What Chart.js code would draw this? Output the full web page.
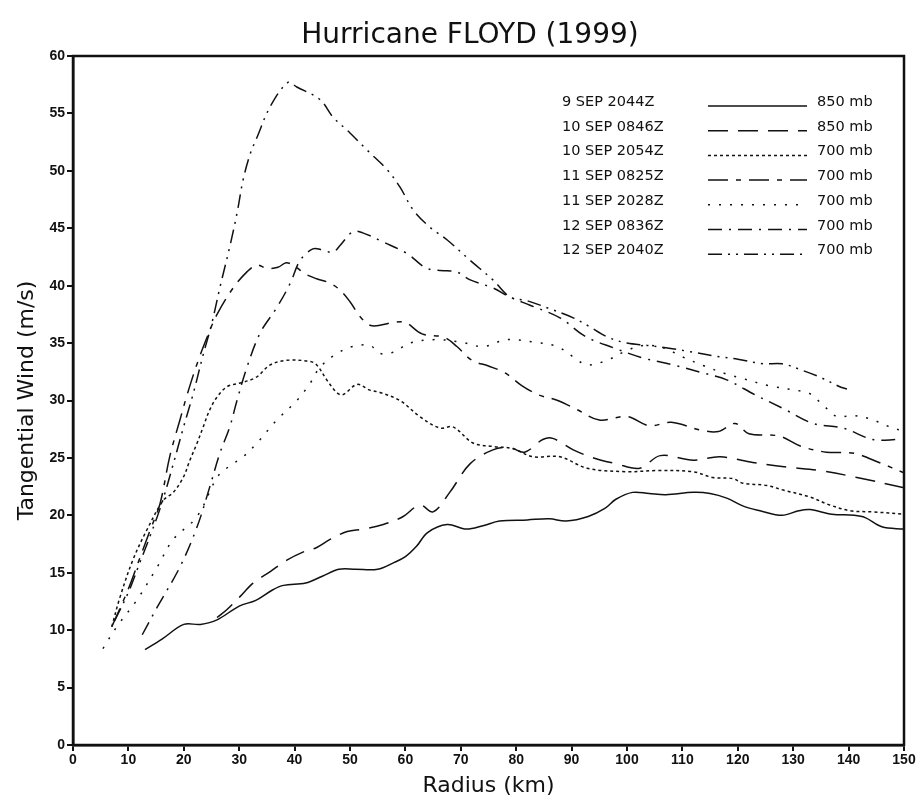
<!DOCTYPE html>
<html>
<head>
<meta charset="utf-8">
<script src="https://cdn.jsdelivr.net/npm/chart.js@4.4.1/dist/chart.umd.min.js"></script>
<style>
  html, body { margin: 0; padding: 0; background: #fff; }
  #wrap { width: 921px; height: 811px; }
</style>
</head>
<body>
<div id="wrap"><canvas id="myChart" width="921" height="811"></canvas></div>
<script>
// ticks
const xTicks = [0, 10, 20, 30, 40, 50, 60, 70, 80, 90, 100, 110, 120, 130, 140, 150];
const yTicks = [0, 5, 10, 15, 20, 25, 30, 35, 40, 45, 50, 55, 60];

// legend text
const chartTitle = 'Hurricane FLOYD (1999)';
const legendTimes = ['9 SEP 2044Z', '10 SEP 0846Z', '10 SEP 2054Z', '11 SEP 0825Z', '11 SEP 2028Z', '12 SEP 0836Z', '12 SEP 2040Z'];
const legendLevels = ['850 mb', '850 mb', '700 mb', '700 mb', '700 mb', '700 mb', '700 mb'];

// 9 SEP 2044Z 850 mb
const r1 = [13, 16, 20, 23, 26, 30, 33, 36, 38, 42, 45, 48, 51, 55, 58, 60, 62, 64, 67.5, 71, 74, 77, 82, 86, 89, 93, 96, 98, 101, 104, 107, 112, 115, 118, 121, 124, 128, 131, 133, 137, 141, 143, 146, 150];
const v1 = [8.3, 9.2, 10.5, 10.5, 10.9, 12.1, 12.6, 13.5, 13.9, 14.1, 14.7, 15.3, 15.3, 15.3, 15.9, 16.4, 17.3, 18.5, 19.2, 18.8, 19.1, 19.5, 19.6, 19.7, 19.5, 19.9, 20.6, 21.4, 22.0, 21.9, 21.8, 22.0, 21.9, 21.5, 20.8, 20.4, 20.0, 20.4, 20.5, 20.1, 20.0, 19.8, 19.0, 18.8];

// 10 SEP 0846Z 850 mb
const r2 = [26, 27.8, 30.1, 32.5, 35.6, 38.6, 41.5, 44, 46.4, 49.5, 52.3, 56, 59.6, 62.6, 65, 68, 71.7, 75.8, 78.9, 81.5, 84.8, 86.6, 90.3, 94, 98, 102.3, 106, 112, 116.8, 122.7, 128.8, 134.8, 141.5, 150];
const v2 = [11.1, 11.8, 12.9, 14.1, 15.1, 16.1, 16.8, 17.2, 17.9, 18.6, 18.8, 19.2, 19.9, 20.9, 20.3, 22.0, 24.5, 25.7, 25.9, 25.5, 26.6, 26.7, 25.7, 25.0, 24.5, 24.1, 25.2, 24.8, 25.1, 24.6, 24.2, 23.9, 23.3, 22.4];

// 10 SEP 2054Z 700 mb
const r3 = [7, 8.5, 10.8, 13.3, 16.3, 18.1, 19.9, 21.1, 22.4, 23.5, 24.7, 26, 27.8, 30, 33, 35.6, 38.6, 42.8, 44, 45.8, 47.6, 48.7, 51.3, 53.6, 55.4, 59, 62.6, 66.2, 68.6, 72.2, 75.8, 79.4, 83, 87.9, 92.8, 100, 105.4, 111.9, 115.5, 119.1, 120.9, 125.2, 128.2, 133, 136.6, 140.3, 144.4, 150];
const v3 = [10.3, 12.9, 16.1, 18.7, 21.3, 22.0, 23.3, 24.8, 26.3, 27.7, 29.2, 30.3, 31.2, 31.5, 32.0, 33.1, 33.5, 33.4, 33.1, 31.8, 30.7, 30.5, 31.4, 30.9, 30.7, 30.0, 28.6, 27.6, 27.7, 26.3, 26.0, 25.8, 25.1, 25.1, 24.1, 23.8, 23.9, 23.8, 23.3, 23.2, 22.8, 22.6, 22.2, 21.6, 20.9, 20.4, 20.3, 20.1];

// 11 SEP 0825Z 700 mb
const r4 = [7, 10, 12, 14, 15.7, 17.5, 19.3, 20.6, 22.4, 24.2, 26, 28.9, 31.4, 33.2, 35, 37, 38.5, 40, 42, 44, 46, 48, 50, 52, 54, 57.8, 60, 63, 67, 69.3, 72, 75, 78, 81, 84, 87.5, 91, 95, 100, 104, 108, 113.5, 116.5, 119.5, 122, 127.5, 131.5, 136, 141, 145.5, 150];
const v4 = [10.3, 13.6, 16.2, 18.8, 21.0, 25.2, 28.3, 30.5, 33.2, 35.5, 37.5, 39.8, 41.2, 41.8, 41.5, 41.6, 42.0, 41.7, 41.0, 40.6, 40.3, 39.7, 38.6, 37.2, 36.5, 36.8, 36.8, 35.8, 35.5, 34.7, 33.5, 33.0, 32.4, 31.3, 30.5, 30.0, 29.2, 28.3, 28.6, 27.8, 28.1, 27.4, 27.3, 28.0, 27.1, 26.9, 26.0, 25.5, 25.4, 24.6, 23.7];

// 11 SEP 2028Z 700 mb
const r5 = [5.4, 7.9, 11.5, 15.2, 18.1, 22.4, 26, 28, 30.7, 33.2, 36.8, 40.4, 42.8, 44.6, 47.7, 50.5, 53.6, 55.4, 57.8, 60.8, 65, 69.9, 74, 78.3, 83, 87.4, 90.3, 92.8, 96.4, 99.3, 102.9, 106.5, 110, 114, 118, 121, 125.5, 131.6, 133, 135.4, 137.9, 140.8, 143.9, 146.9, 150];
const v5 = [8.4, 10.3, 12.6, 15.5, 17.9, 19.9, 23.3, 24.2, 25.1, 26.3, 28.3, 30.0, 31.5, 32.9, 34.1, 34.7, 34.8, 34.1, 34.2, 35.0, 35.3, 35.1, 34.7, 35.3, 35.1, 34.7, 33.8, 33.1, 33.5, 34.2, 34.8, 34.6, 33.8, 33.0, 32.3, 31.9, 31.3, 30.8, 30.6, 29.6, 28.6, 28.7, 28.4, 27.8, 27.3];

// 12 SEP 0836Z 700 mb
const r6 = [12.5, 15.2, 19.3, 22.4, 24.7, 26.5, 28.3, 29.6, 31.4, 33.8, 36.8, 39.2, 41, 43.3, 45.1, 46.9, 48.2, 50.5, 52.3, 56, 60.3, 63.9, 67.5, 69.3, 71.7, 75.8, 78.9, 82.5, 87.9, 92.4, 97.5, 102.9, 108.3, 113.7, 118, 123.1, 128.2, 133.6, 139, 144.4, 149];
const v6 = [9.6, 12.0, 15.5, 19.0, 22.5, 25.4, 27.7, 30.0, 32.9, 35.9, 38.1, 40.2, 42.2, 43.2, 43.1, 42.9, 43.5, 44.7, 44.6, 43.8, 42.8, 41.5, 41.3, 41.2, 40.5, 39.8, 39.0, 38.3, 37.2, 35.6, 34.6, 33.7, 33.1, 32.4, 31.8, 30.5, 29.3, 28.0, 27.6, 26.6, 26.6];

// 12 SEP 2040Z 700 mb
const r7 = [7.5, 10, 12, 14, 16, 18, 19.9, 21.7, 23.5, 25, 26.5, 28.3, 29.6, 30.7, 32, 33.2, 35.6, 38.8, 40.4, 44.6, 46.9, 50, 53.1, 56.7, 59, 61.4, 64.4, 67.5, 71.7, 75.8, 78.9, 81.9, 86, 90.3, 93, 96.6, 100, 103.6, 107, 110.8, 116.8, 120, 124.5, 128, 131.8, 135, 138.4, 139.7];
const v7 = [10.8, 13.3, 15.8, 18.3, 21.0, 24.3, 27.6, 30.6, 34.0, 36.6, 39.8, 43.4, 46.3, 49.2, 51.5, 52.9, 55.6, 57.7, 57.3, 56.2, 54.7, 53.3, 51.8, 50.1, 48.6, 46.6, 45.1, 44.0, 42.2, 40.5, 39.0, 38.7, 38.0, 37.2, 36.5, 35.5, 35.0, 34.8, 34.6, 34.3, 33.8, 33.6, 33.2, 33.2, 32.6, 32.0, 31.2, 31.0];

const radii = [r1, r2, r3, r4, r5, r6, r7];
const winds = [v1, v2, v3, v4, v5, v6, v7];
const dashes = [[], [20, 10], [3, 3], [20, 8, 5, 8], [2, 9], [14, 7, 2, 7], [14, 6, 2, 6, 2, 6]];

const pts = (rs, vs) => rs.map((r, i) => ({x: r, y: vs[i]}));

const datasets = legendTimes.map((t, i) => ({
  label: t + ' ' + legendLevels[i],
  data: pts(radii[i], winds[i]),
  borderColor: '#111',
  borderWidth: 1.5,
  borderDash: dashes[i],
  pointRadius: 0,
  fill: false,
  tension: 0.35,
}));

// title, box around plot, legend in the corner
const boxAndLegend = {
  id: 'boxAndLegend',
  afterDraw(chart) {
    const {ctx, chartArea: a} = chart;
    ctx.save();
    ctx.strokeStyle = '#111';
    ctx.lineWidth = 2.5;
    ctx.setLineDash([]);
    ctx.strokeRect(a.left, a.top, a.right - a.left, a.bottom - a.top);

    ctx.fillStyle = '#111';
    ctx.font = '28px "DejaVu Sans", sans-serif';
    ctx.textAlign = 'center';
    ctx.textBaseline = 'middle';
    ctx.fillText(chartTitle, 470, 36);

    ctx.font = '14.5px "DejaVu Sans", sans-serif';
    ctx.textBaseline = 'alphabetic';
    legendTimes.forEach((t, i) => {
      const y = 106 + i * 24.7;
      ctx.textAlign = 'left';
      ctx.fillText(t, 562, y);
      ctx.fillText(legendLevels[i], 817, y);
      ctx.beginPath();
      ctx.lineWidth = 1.5;
      ctx.setLineDash(dashes[i]);
      ctx.moveTo(708, y);
      ctx.lineTo(807, y);
      ctx.stroke();
    });
    ctx.restore();
  }
};

const tickFont = {family: '"Liberation Sans", Arial, sans-serif', size: 14, weight: 'bold'};

new Chart(document.getElementById('myChart'), {
  type: 'line',
  data: {datasets: datasets},
  options: {
    responsive: false,
    animation: false,
    layout: {padding: {left: 0, right: 17, top: 56, bottom: 0}},
    plugins: {
      legend: {display: false},
      tooltip: {enabled: false},
      title: {display: false}
    },
    scales: {
      x: {
        type: 'linear',
        min: 0,
        max: 150,
        afterBuildTicks: (s) => { s.ticks = xTicks.map(v => ({value: v})); },
        afterFit: (s) => { s.height = 66; },
        ticks: {color: '#111', font: tickFont, padding: 1, maxRotation: 0, autoSkip: false},
        grid: {drawOnChartArea: false, drawTicks: true, tickLength: 6, color: '#111', lineWidth: 2},
        border: {display: true, color: '#111', width: 2.5},
        title: {
          display: true,
          text: 'Radius (km)',
          color: '#111',
          font: {family: '"DejaVu Sans", sans-serif', size: 22},
          padding: {top: 0, bottom: 12}
        }
      },
      y: {
        type: 'linear',
        min: 0,
        max: 60,
        afterBuildTicks: (s) => { s.ticks = yTicks.map(v => ({value: v})); },
        afterFit: (s) => { s.width = 73; },
        ticks: {color: '#111', font: tickFont, padding: 2, autoSkip: false},
        grid: {drawOnChartArea: false, drawTicks: true, tickLength: 6, color: '#111', lineWidth: 2},
        border: {display: true, color: '#111', width: 2.5},
        title: {
          display: true,
          text: 'Tangential Wind (m/s)',
          color: '#111',
          font: {family: '"DejaVu Sans", sans-serif', size: 22},
          padding: {top: 14, bottom: 0}
        }
      }
    }
  },
  plugins: [boxAndLegend]
});
</script>
</body>
</html>
